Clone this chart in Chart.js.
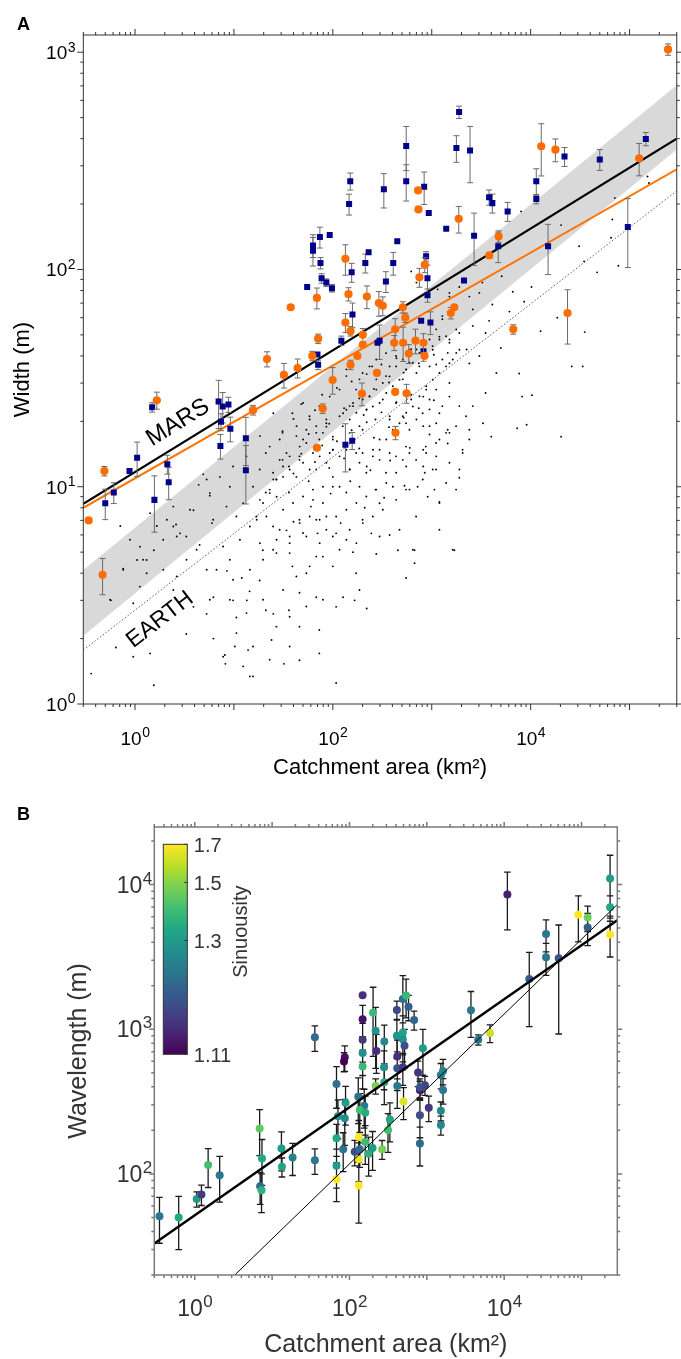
<!DOCTYPE html>
<html>
<head>
<meta charset="utf-8">
<script src="https://cdn.jsdelivr.net/npm/chart.js@4.4.1/dist/chart.umd.min.js"></script>
<style>
  html, body { margin: 0; padding: 0; background: #fff; }
  body { width: 681px; height: 1359px; position: relative; overflow: hidden; }
  canvas { position: absolute; left: 0; }
  #chartA { top: 0; }
  #chartB { top: 790px; }
</style>
</head>
<body>
<canvas id="chartA" width="681" height="790"></canvas>
<canvas id="chartB" width="681" height="569"></canvas>
<script>
// ---------- panel A : channel width vs catchment area ----------
// [area km2, width m, relative error]
const marsBlue = [
  [55,83,0],[63,129,0.12],[63,122,0.15],[74,141,0.11],[93,144,0],[75,107,0.06],[77,91,0.05],[86,87,0.04],[98,82,0.04],
  [1890,530,0.065],[1775,362,0.14],[2440,353,0.29],[552,370,0.23],[552,255,0.19],[150,255,0.09],[146,200,0.11],
  [328,234,0.18],[838,240,0.17],[933,182,0],[1400,154,0],[2680,143,0.27],[3800,215,0.08],[4100,202,0.1],
  [5850,185,0.1],[11400,255,0.14],[11400,211,0.05],[22000,331,0.1],[50000,321,0.11],[146000,399,0.07],
  [96000,157,0.35],[15000,128,0.26],[4700,128,0.16],[448,135,0],[230,120,0],[213,107,0.1],[408,107,0.12],
  [155,97,0.1],[877,115,0.05],[905,91,0.15],[344,88,0.11],[905,76,0.07],[158,62,0.13],[2120,89,0],[782,58,0],
  [970,57,0.12],[122,47,0.05],[297,47,0.18],[283,46,0],[825,42,0.1],[70,40.6,0],[71,36.4,0.05],
  [1.49,23.2,0.05],[0.88,11.8,0],[1.05,13.6,0.18],[0.5,8.4,0.16],[0.61,9.4,0.11],[1.57,8.7,0.29],[2.12,12.7,0.1],
  [2.19,10.5,0.17],[7.0,24.7,0.25],[7.7,23.4,0.16],[8.8,23.9,0.08],[7.4,19.9,0.09],[9.2,18.5,0.13],[7.3,15.4,0.13],
  [13.2,16.7,0.25],[13.2,11.9,0.3],[134,15.6,0.25],[157,16.3,0.09]
];
const marsOrange = [
  [245000,1030,0.06],[12800,369,0.27],[17800,356,0.12],[125000,325,0.17],[728,231,0],[734,189,0],[1875,171,0.14],
  [4750,142,0.06],[3820,116,0],[23600,63,0.28],[6670,53,0.05],[134,112,0.16],[144,77,0.07],[221,75,0.12],
  [292,70,0.13],[320,68,0.1],[850,105,0.08],[750,92,0.1],[134,57,0.1],[151,52,0.05],[510,67,0.06],[540,60,0.05],
  [1690,67,0],[1560,63,0.06],[201,50,0.07],[201,45,0],[427,53,0.12],[417,46,0.08],[514,46,0.18],[685,47,0.13],
  [825,46,0.1],[177,40,0],[586,41,0.1],[845,40,0],[37.5,67,0],[69,74,0.11],[71,48,0.05],[21.6,38.7,0.08],
  [62,40,0.05],[0.49,11.8,0.05],[0.34,7.0,0],[0.47,3.93,0.19],[1.66,25,0.09],[15.6,22.5,0.05],[32,32.7,0.13],
  [44,35.2,0.1],[99.6,31,0.14],[79,22.9,0.05],[69,15.1,0],[151,36.4,0.05],[279,33.4,0],[197,26.8,0.12],
  [427,27.3,0],[556,26.9,0.1],[430,17.7,0.07]
];
// terrestrial rivers [area km2, width m]
const earthDots = [
  [0.36,1.38],[1.55,1.22],[0.64,1.82],[0.57,3.0],[0.76,4.2],[1.05,4.6],[1.31,4.6],[1.55,5.1],[1.93,5.7],[2.6,6.7],
  [2.85,6.1],[4.4,10.2],[5.7,9.1],[8.4,8.1],[10.6,7.3],[6.0,6.8],[3.3,5.9],[4.5,5.4],[5.3,4.15],[8.5,4.1],
  [12,3.8],[14.4,3.3],[6.2,3.1],[9.8,3.0],[13.5,3.0],[21,2.7],[25,2.6],[36,2.7],[46,3.25],[39,4.3],
  [54,4.0],[18.2,3.7],[10.2,1.84],[13.9,1.77],[8.1,1.68],[8.2,1.53],[15.6,1.34],[24,1.97],[32,1.53],[46,2.27],
  [73,2.19],[108,1.25],[19.6,5.1],[27,5.7],[34,6.3],[17,7.05],[12.4,8.4],[21,9.4],[31,13.3],[46,13.8],
  [54,15.9],[73,16.5],[100,14.8],[68,12],[100,10],[63,8.7],[86,7.3],[108,6.1],[46,7.05],[36,9.4],
  [25,10.8],[18.2,12],[13.4,13.8],[9.8,12.4],[9.1,10],[7.2,11.1],[5.3,10.8],[3.9,7.8],[2.44,8.1],[2.1,7.05],
  [1.66,6.6],[1.12,5.3],[0.89,5.7],[0.71,6.6],[1.31,4.0],[2.44,3.35],[3.9,2.8],[5.3,2.6],[3.3,2.1],[6.2,2.0],
  [10.6,2.5],[31,18],[39,21.8],[50,24.3],[86,18.9],[27,9.0],[100,4.3],[68,3.1],[108,2.8],[73,1.71],[46,1.59],
  [137,34.7],[186,31.2],[250,35.8],[345,32.3],[550,34.7],[750,35.8],[1110,36.5],[1510,37],[2400,36.9],[4500,33.4],
  [7660,33.2],[1510,26],[3500,27],[8200,26],[10300,26.4],[2600,23.5],[1900,23.5],[1195,21.8],[950,25.2],[810,21.8],
  [700,20.4],[950,19],[1450,18.3],[2400,18.3],[3300,19.6],[4000,17],[7300,18.6],[9100,19.3],[20300,17],[26000,35.8],
  [33600,35.8],[550,19.6],[375,20.4],[270,20.4],[186,19],[220,22.7],[148,23.5],[172,14.3],[255,14.8],[375,14.3],
  [550,15.3],[820,14.8],[1110,13.8],[1450,15.8],[2050,14.8],[820,12.4],[510,13.3],[345,11.6],[220,12.4],[148,12],
  [137,9.4],[186,10],[270,9.7],[405,10],[550,9.7],[720,10],[1065,9.7],[1900,11],[910,9.0],[1195,8.5],
  [297,8.4],[200,7.05],[137,5.7],[245,6.1],[375,6.0],[160,5.0],[275,4.9],[455,5.1],[670,5.1],[1695,5.1],
  [670,4.45],[172,4.0],[550,3.8],[186,3.35],[220,2.75],[127,3.1],[166,3.0],
  [620,98],[700,87],[1150,81],[1510,75],[1280,61],[1110,53],[950,47.6],[700,42.8],[595,37.3],[435,40],
  [345,41.2],[275,38.5],[375,35.8],[235,35.8],[200,33.4],[275,31.2],[510,31.2],[700,33.4],[950,35.8],[1280,38.5],
  [1770,41.3],[1510,47.6],[1770,52.9],[137,32.3],[117,28],[172,28],[235,26],[320,25.2],[435,24.3],[620,25.2],
  [820,26],[1110,28],[1510,30],[93,26],[73,23.5],[58,21.1],[86,20.4],[127,21.8],[160,23.5],[205,21.4],
  [375,21.1],[510,21.1],[950,22.7],[1280,23.5],[43,19],[31,17.7],[25,21.8],[50,16.5],[68,17.7],[100,17],
  [148,17.7],[200,18.3],[297,16.5],[435,17.7],[595,18.3],[820,19],[1110,19.6],[34,14.3],[46,13.3],[63,14.3],
  [93,14.3],[200,14.3],[297,13.3],[435,13.8],[595,14.3],[870,15.3],[1195,16.5],[1510,17.7],[29,16.5],[21,14.3],[36,12.4],
  [8000,185],[20300,160],[30900,128],[34700,109],[47000,97],[67000,170],[71000,213],[77000,104],[152000,268],[157000,250],
  [65000,140],[12600,52],[35200,51.5],[18600,60],[10200,83],[6600,79],[5100,93],[8600,71],[6100,64],[4100,69],
  [3800,58],[2600,65.5],[3030,78],[3250,87],[1510,78],[1900,83],[2400,75],[5000,43.5],[3500,51],[2600,55],
  [1900,51],[1510,46],[2250,42.8],[3030,40],[1195,49],[1280,59],[1450,41.3],[1020,44.4],
  [18.3,17.1],[23,15.3],[24.9,11.6],[29,13.3],[36.6,13.8],[42.8,17.1],[46.2,15.3],[54,18.3],[58.3,20.4],[68,19],
  [79.4,17.7],[86,19.6],[100,16.5],[117,21.1],[126,19],[137,22.6],[148,20.4],[160,24.3],[173,21.9],[201,25.2],
  [218,22.6],[235,26.1],[254,23.4],[275,28],[297,24.3],[320,30],[347,27],[374,32.2],[404,29],[437,35.8],
  [472,31.1],[510,38.5],[552,34.6],[596,42.7],[644,37.2],[751,41.3],[878,45.9],[1024,42.7],[1195,47.6],[1397,49.3],
  [15.6,10],[18.3,8.7],[23,9.7],[26.9,10.8],[31.4,11.1],[36.6,12],[42.8,11.1],[50,12.9],[58.3,12],[73.6,13.8],
  [86,12.9],[100,14.8],[117,13.8],[137,14.8],
  [21.3,7.3],[24.9,6.56],[31.4,7.83],[39.6,8.41],[50,9.02],[63,9.7],[79.4,10],[100,11.1],[117,10],[148,12],
  [186,12.9],[218,11.6],[254,13.8],[297,14.8],[347,16.5],[404,18.3],[472,19.6],[552,21.9],[644,23.4],[751,26.1],
  [878,28],[1024,31.1],[1195,33.4],[1397,35.8],[1630,38.5],[1905,42.7],
  [29,6.34],[36.6,5.9],[46.2,6.8],[58.3,7.3],[73.6,7.05],[86,6.34],[108,7.3],[137,7.83],[173,8.41],[218,9.02],
  [275,9.7],[347,10.4],[437,11.6],[552,12.4],[695,13.3],[878,14.3],[1107,15.9],[1397,17.7],[1762,19],[2223,21.1],
  [54,5.9],[73.6,5.5],[100,5.9],[148,6.34],[201,6.8],[254,7.3],[320,7.83],[437,8.7],[596,9.7],[811,10.8],
  [1107,12],[1510,12.9],[2056,14.3],[18.3,5.5],[24.9,5.13],[36.6,4.95],[68,4.77],[117,5.13],[173,5.5],[297,5.9],
  [472,6.34],[695,7.3],[1195,8.41],[1762,9.7],[644,5.13],[1630,5.13],[1195,6.34],[1024,12],[1397,10.4],[1905,12],[2400,16.5],
  [1.42,7.56],[2.44,6.56],[2.64,5.9],[3.59,7.83],[4.89,11.4],[5.71,9.35],[6.17,7.05],[4.2,5.13],[3.32,4.61],[2.64,3.86],
  [1.93,4.15],[1.21,4.61],[0.76,4.15],[0.56,3.02],[0.96,2.91],[1.12,3.47],[7.78,5.31],[9.1,4.61],[11.5,5.7],[14.5,6.56],
  [16.9,7.3],[19.7,8.41],[23,9.35],[26.9,10.8],[31.4,12.4],[6.67,4.15],[9.8,3.73],[14.5,4.15],[19.7,4.61],[26.9,4.95],
  [36.6,5.5],[50,6.12],[68,7.05],[79.4,8.41],[5.71,3.02],[9.1,3.02],[13.4,2.62],[19.7,3.02],[31.4,3.35],[42.8,3.86],
  [58.3,4.3],[79.4,4.77],[10.6,2.12],[15.6,1.84],[26.9,2.27],[36.6,2.52],[54,2.81],[79.4,3.02],[7.78,1.65],[12.4,1.49],
  [23,1.6],[36.6,1.84],[1.42,1.71],[0.96,1.65],[14.5,1.34],
  [40,11.5],[40,20.5],[48,14.2],[48,24],[57,10.6],[57,17.5],[66,13],[66,22.5],[78,15.5],[78,26.5],
  [92,12.2],[92,19.5],[110,16.2],[110,28.5],[130,13.5],[130,23],[155,18.2],[155,30.5],[185,15],[185,25.5],
  [220,19.8],[220,33],[260,16.8],[260,28.2],[310,22],[310,36.5],[370,18.8],[370,30.2],[440,24.5],[440,39],
  [520,20.8],[520,33.5],[620,26.5],[620,43],[740,23],[740,37],[880,29],[880,46.5],[1050,25],[1050,40.5],
  [60,8.1],[95,9.3],[150,10.6],[240,11.9],[380,13.2],[600,15.1],[950,17.4],[40,6.9],[70,6.1],[120,6.8],
  [210,8.0],[330,8.9],[530,10.1],[850,11.6]
];
const marsFit = [[0.3, 8.35], [3e5, 400]];
const orangeFit = [[0.3, 8.0], [3e5, 289]];
const earthFit = [[0.3, 1.77], [3e5, 230]];
const bandUpper = [[0.3, 4.14], [3e5, 705]];
const bandLower = [[0.3, 2.06], [3e5, 357]];
const marsLabelAt = [2.72, 19.7];
const earthLabelAt = [1.79, 2.44];
const xTicksA = [1, 100, 1e4];
const yTicksA = [1, 10, 100, 1000];

// ---------- panel B : meander wavelength vs catchment area ----------
// [area km2, wavelength m, relative error, sinuosity]
const waveData = [
  [0.35,51,0.35,1.23],[0.62,50,0.4,1.33],[1.06,67,0.12,1.30],[1.22,72,0.16,1.15],[1.49,115,0.3,1.40],
  [2.1,98,0.35,1.23],[6.9,206,0.35,1.44],[7.4,128,0.35,1.33],[7.0,82,0.25,1.21],[7.3,77,0.3,1.36],
  [13.2,150,0.3,1.30],[13.4,112,0.15,1.32],[18.4,130,0.25,1.25],[35.7,124,0.2,1.23],
  [35.7,880,0.2,1.21],[148,1720,0,1.14],[202,1300,0.5,1.38],[148,1170,0.25,1.12],[148,845,0.3,1.15],
  [148,684,0.3,1.28],[148,552,0.3,1.38],[87,640,0.2,1.12],[85,598,0.15,1.11],[68,418,0.32,1.22],
  [89,310,0.3,1.30],[87,242,0.35,1.27],[68,176,0.25,1.33],[83,148,0.3,1.22],[68,114,0.3,1.30],
  [68,92,0.3,1.70],[71,250,0.3,1.28],[130,342,0.35,1.22],[155,296,0.3,1.23],[136,276,0.3,1.40],
  [160,265,0.3,1.34],[132,180,0.3,1.70],[160,166,0.3,1.39],[117,142,0.2,1.17],[136,148,0.25,1.21],
  [132,126,0.3,1.67],[132,83,0.45,1.70],[177,138,0.3,1.36],[199,151,0.3,1.30],[264,148,0.15,1.48],
  [218,405,0.12,1.48],[282,430,0.3,1.35],[223,708,0.3,1.14],[282,822,0.3,1.26],[218,975,0.45,1.28],
  [280,545,0.3,1.28],[333,238,0.3,1.33],[315,201,0.3,1.40],[490,1620,0.45,1.22],[540,1710,0.3,1.38],
  [580,1430,0.2,1.19],[685,1160,0.15,1.20],[410,1360,0.15,1.16],[410,900,0.3,1.29],[490,950,0.3,1.32],
  [490,850,0.3,1.28],[515,768,0.3,1.17],[415,648,0.3,1.14],[415,537,0.3,1.175],[490,545,0.25,1.15],
  [415,405,0.3,1.23],[500,316,0.25,1.64],[890,740,0.35,1.30],[770,502,0.2,1.145],[945,410,0.15,1.16],
  [814,380,0.15,1.12],[814,395,0.15,1.175],[1060,287,0.2,1.145],[814,254,0.3,1.17],[814,162,0.3,1.21],
  [1520,483,0.2,1.23],[1620,515,0.2,1.255],[1620,380,0.2,1.23],[1520,273,0.15,1.255],[1520,218,0.15,1.255],
  [11000,8530,0.43,1.13],[234000,11000,0.45,1.30],[234000,6970,0.2,1.33],[234000,4510,0.3,1.70],
  [91000,6180,0.35,1.70],[120000,5920,0.2,1.46],[120000,5050,0.25,1.19],[34800,4560,0.25,1.23],
  [34800,3140,0.25,1.23],[50700,3090,0.7,1.175],[21100,2220,0.53,1.18],[3720,1350,0.35,1.23],
  [4620,845,0.08,1.22],[6550,940,0.14,1.60]
];
const waveFit = [[0.3, 33], [2.9e5, 5670]];
const waveRef = [[3.29, 20], [2.9e5, 7280]];
const xTicksB = [1, 100, 1e4];
const yTicksB = [100, 1000, 1e4];
const sinMin = 1.11, sinMax = 1.7;
const sinTicks = [1.11, 1.3, 1.5, 1.7];
const sinTickLabels = ['1.11', '1.3', '1.5', '1.7'];

const viridis = ['#440154','#482475','#414487','#355f8d','#2a788e','#21918c','#22a884','#44bf70','#7ad151','#bddf26','#fde725'];
const FONT = '"Liberation Sans", Arial, Helvetica, sans-serif';

Chart.defaults.font.family = FONT;

const pts = arr => arr.map(p => ({ x: p[0], y: p[1] }));

function sinT(s) {
  const lo = Math.log10(sinMin - 1), hi = Math.log10(sinMax - 1);
  return Math.max(0, Math.min(1, (Math.log10(s - 1) - lo) / (hi - lo)));
}
function hexToRgb(h) { return [1, 3, 5].map(i => parseInt(h.slice(i, i + 2), 16)); }
function sinColor(s) {
  const f = sinT(s) * (viridis.length - 1);
  const i = Math.min(viridis.length - 2, Math.floor(f)), u = f - i;
  const a = hexToRgb(viridis[i]), b = hexToRgb(viridis[i + 1]);
  return 'rgb(' + a.map((c, k) => Math.round(c + (b[k] - c) * u)).join(',') + ')';
}

function logSteps(min, max) {
  const out = [];
  for (let k = Math.floor(Math.log10(min)); k <= Math.ceil(Math.log10(max)); k++) {
    for (let m = 1; m < 10; m++) {
      const v = m * Math.pow(10, k);
      if (v >= min * 0.999 && v <= max * 1.001) out.push([v, m === 1]);
    }
  }
  return out;
}

// box round the plot with log ticks on all four sides
const frameTicks = {
  id: 'frameTicks',
  afterDraw(chart, args, opts) {
    const { ctx, chartArea: a, scales: { x, y } } = chart;
    ctx.save();
    ctx.strokeStyle = opts.color;
    ctx.lineWidth = opts.width;
    ctx.strokeRect(a.left, a.top, a.right - a.left, a.bottom - a.top);
    ctx.beginPath();
    logSteps(x.min, x.max).forEach(([v, major]) => {
      const p = x.getPixelForValue(v), len = major ? opts.major : opts.minor;
      ctx.moveTo(p, a.bottom); ctx.lineTo(p, a.bottom + len);
      ctx.moveTo(p, a.top); ctx.lineTo(p, a.top - len);
    });
    logSteps(y.min, y.max).forEach(([v, major]) => {
      const p = y.getPixelForValue(v), len = major ? opts.major : opts.minor;
      ctx.moveTo(a.left, p); ctx.lineTo(a.left - len, p);
      ctx.moveTo(a.right, p); ctx.lineTo(a.right + len, p);
    });
    ctx.stroke();
    ctx.restore();
  }
};

// "10" with a raised exponent, at the positions of the scale's own ticks
const powerLabels = {
  id: 'powerLabels',
  afterDraw(chart, args, o) {
    const { ctx, chartArea: a, scales: { x, y } } = chart;
    ctx.save();
    ctx.fillStyle = o.color;
    ctx.textAlign = 'left';
    ctx.textBaseline = 'alphabetic';
    const draw = (v, px, base, anchor) => {
      const k = String(Math.round(Math.log10(v)));
      ctx.font = o.size + 'px ' + FONT;
      const wb = ctx.measureText('10').width;
      ctx.font = o.supSize + 'px ' + FONT;
      const we = ctx.measureText(k).width;
      const left = anchor === 'center' ? px - (wb + we) / 2 : px - wb - we;
      ctx.font = o.size + 'px ' + FONT;
      ctx.fillText('10', left, base);
      ctx.font = o.supSize + 'px ' + FONT;
      ctx.fillText(k, left + wb + 0.5, base - o.raise);
    };
    x.ticks.forEach(t => draw(t.value, x.getPixelForValue(t.value), a.bottom + o.xOffset, 'center'));
    y.ticks.forEach(t => draw(t.value, a.left - o.yPad, y.getPixelForValue(t.value) + o.size * 0.358, 'right'));
    ctx.restore();
  }
};

// vertical error bars, drawn just under their markers
const errorBars = {
  id: 'errorBars',
  beforeDatasetDraw(chart, args, opts) {
    const ds = chart.data.datasets[args.index];
    if (!ds.errors) return;
    const { ctx, scales: { x, y } } = chart;
    ctx.save();
    ctx.strokeStyle = opts.color;
    ctx.lineWidth = opts.width;
    ctx.beginPath();
    ds.data.forEach((pt, i) => {
      const e = ds.errors[i];
      if (!e) return;
      const px = x.getPixelForValue(pt.x);
      const top = y.getPixelForValue(pt.y * (1 + e));
      const bot = y.getPixelForValue(pt.y * (1 - e));
      ctx.moveTo(px, top); ctx.lineTo(px, bot);
      ctx.moveTo(px - opts.cap, top); ctx.lineTo(px + opts.cap, top);
      ctx.moveTo(px - opts.cap, bot); ctx.lineTo(px + opts.cap, bot);
    });
    ctx.stroke();
    ctx.restore();
  }
};

function drawAlong(ctx, x, y, text, at, line, size) {
  const x0 = x.getPixelForValue(line[0][0]), y0 = y.getPixelForValue(line[0][1]);
  const x1 = x.getPixelForValue(line[1][0]), y1 = y.getPixelForValue(line[1][1]);
  ctx.save();
  ctx.translate(x.getPixelForValue(at[0]), y.getPixelForValue(at[1]));
  ctx.rotate(Math.atan2(y1 - y0, x1 - x0));
  ctx.font = size + 'px ' + FONT;
  ctx.textAlign = 'center';
  ctx.textBaseline = 'middle';
  ctx.fillText(text, 0, 0);
  ctx.restore();
}

const labelsA = {
  id: 'labelsA',
  afterDraw(chart) {
    const { ctx, scales: { x, y } } = chart;
    ctx.save();
    ctx.fillStyle = '#000';
    ctx.font = 'bold 18px ' + FONT;
    ctx.textAlign = 'left';
    ctx.textBaseline = 'alphabetic';
    ctx.fillText('A', 17, 29.5);
    drawAlong(ctx, x, y, 'MARS', marsLabelAt, marsFit, 24);
    drawAlong(ctx, x, y, 'EARTH', earthLabelAt, earthFit, 23);
    ctx.restore();
  }
};

const colorBar = {
  id: 'colorBar',
  afterDraw(chart) {
    const { ctx, chartArea: a } = chart;
    const left = a.left + 9, top = a.top + 17.3, w = 24, h = 210;
    ctx.save();
    ctx.fillStyle = '#000';
    ctx.font = 'bold 18px ' + FONT;
    ctx.textAlign = 'left';
    ctx.textBaseline = 'alphabetic';
    ctx.fillText('B', 17, 29.5);

    const g = ctx.createLinearGradient(0, top + h, 0, top);
    viridis.forEach((c, i) => g.addColorStop(i / (viridis.length - 1), c));
    ctx.fillStyle = g;
    ctx.fillRect(left, top, w, h);
    ctx.strokeStyle = '#333';
    ctx.lineWidth = 1;
    ctx.strokeRect(left, top, w, h);

    ctx.font = '20px ' + FONT;
    ctx.fillStyle = '#333';
    ctx.textBaseline = 'middle';
    sinTicks.forEach((s, i) => {
      const py = top + h - sinT(s) * h;
      ctx.beginPath();
      ctx.moveTo(left + w, py); ctx.lineTo(left + w - 3, py);
      ctx.stroke();
      ctx.fillText(sinTickLabels[i], left + w + 6.5, py + 2);
    });
    ctx.translate(a.left + 87.4, a.top + 104.7);
    ctx.rotate(-Math.PI / 2);
    ctx.textAlign = 'center';
    ctx.fillText('Sinuousity', 0, 0);
    ctx.restore();
  }
};

// ---------- chart A ----------
new Chart(document.getElementById('chartA'), {
  type: 'scatter',
  data: {
    datasets: [
      { label: 'Mars (circles)', data: pts(marsOrange), errors: marsOrange.map(p => p[2]),
        pointStyle: 'circle', pointRadius: 4.1, backgroundColor: '#ff6d00', borderWidth: 0, order: 0 },
      { label: 'Mars (squares)', data: pts(marsBlue), errors: marsBlue.map(p => p[2]),
        pointStyle: 'rect', pointRadius: 4.25, backgroundColor: '#00008b', borderWidth: 0, order: 1 },
      { type: 'line', label: 'Mars fit', data: pts(marsFit), borderColor: '#000', borderWidth: 2.2,
        pointRadius: 0, fill: false, order: 2 },
      { type: 'line', label: 'Orange fit', data: pts(orangeFit), borderColor: '#ff7400', borderWidth: 2,
        pointRadius: 0, fill: false, order: 3 },
      { type: 'line', label: 'Earth fit', data: pts(earthFit), borderColor: '#333', borderWidth: 0.8,
        borderDash: [1.5, 2], pointRadius: 0, fill: false, order: 4 },
      { label: 'Earth', data: pts(earthDots), pointRadius: 0.95, backgroundColor: '#000', borderWidth: 0, order: 5 },
      { type: 'line', label: 'band top', data: pts(bandUpper), borderColor: 'rgba(0,0,0,0)', borderWidth: 0,
        pointRadius: 0, fill: '+1', backgroundColor: '#d9d9d9', order: 6 },
      { type: 'line', label: 'band bottom', data: pts(bandLower), borderColor: 'rgba(0,0,0,0)', borderWidth: 0,
        pointRadius: 0, fill: false, order: 7 }
    ]
  },
  options: {
    responsive: false,
    animation: false,
    events: [],
    layout: { padding: { left: 0, right: 2.7, top: 35, bottom: 0 } },
    plugins: {
      legend: { display: false },
      tooltip: { enabled: false },
      frameTicks: { color: '#333', width: 1, major: 6, minor: 3 },
      errorBars: { color: '#6b6b6b', width: 1, cap: 3 },
      powerLabels: { color: '#000', size: 19, supSize: 14, raise: 7.5, xOffset: 40.8, yPad: 8.3 }
    },
    scales: {
      x: {
        type: 'logarithmic', min: 0.3, max: 3e5,
        afterBuildTicks: s => { s.ticks = xTicksA.map(v => ({ value: v })); },
        afterFit: s => { s.height = 86; },
        grid: { display: false, drawTicks: false },
        border: { display: false },
        ticks: { display: false },
        title: { display: true, text: 'Catchment area (km\u00b2)', font: { size: 22 }, color: '#000',
                 padding: { top: 0, bottom: 8.8 } }
      },
      y: {
        type: 'logarithmic', min: 1, max: 1200,
        afterBuildTicks: s => { s.ticks = yTicksA.map(v => ({ value: v })); },
        afterFit: s => { s.width = 83.3; },
        grid: { display: false, drawTicks: false },
        border: { display: false },
        ticks: { display: false },
        title: { display: true, text: 'Width (m)', font: { size: 22 }, color: '#000',
                 padding: { top: 9.3, bottom: 0 } }
      }
    }
  },
  plugins: [errorBars, frameTicks, powerLabels, labelsA]
});

// ---------- chart B ----------
new Chart(document.getElementById('chartB'), {
  type: 'scatter',
  data: {
    datasets: [
      { type: 'line', label: 'fit', data: pts(waveFit), borderColor: '#000', borderWidth: 2.6,
        pointRadius: 0, fill: false, order: 0 },
      { type: 'line', label: 'reference', data: pts(waveRef), borderColor: '#000', borderWidth: 1,
        pointRadius: 0, fill: false, order: 1 },
      { label: 'meanders', data: pts(waveData), errors: waveData.map(p => p[2]),
        pointRadius: 4, backgroundColor: waveData.map(p => sinColor(p[3])), borderWidth: 0, order: 2 }
    ]
  },
  options: {
    responsive: false,
    animation: false,
    events: [],
    layout: { padding: { left: 0, right: 63.7, top: 37, bottom: 0 } },
    plugins: {
      legend: { display: false },
      tooltip: { enabled: false },
      frameTicks: { color: '#7a7a7a', width: 1.5, major: 5, minor: 3 },
      errorBars: { color: '#1a1a1a', width: 1.3, cap: 3.3 },
      powerLabels: { color: '#333', size: 23, supSize: 17, raise: 9, xOffset: 41.2, yPad: 2.6 }
    },
    scales: {
      x: {
        type: 'logarithmic', min: 0.3, max: 2.9e5,
        afterBuildTicks: s => { s.ticks = xTicksB.map(v => ({ value: v })); },
        afterFit: s => { s.height = 84; },
        grid: { display: false, drawTicks: false },
        border: { display: false },
        ticks: { display: false },
        title: { display: true, text: 'Catchment area (km\u00b2)', font: { size: 25, lineHeight: 1.1 }, color: '#333',
                 padding: { top: 0, bottom: 0.3 } }
      },
      y: {
        type: 'logarithmic', min: 20, max: 25000,
        afterBuildTicks: s => { s.ticks = yTicksB.map(v => ({ value: v })); },
        afterFit: s => { s.width = 154.3; },
        grid: { display: false, drawTicks: false },
        border: { display: false },
        ticks: { display: false },
        title: { display: true, text: 'Wavelength (m)', font: { size: 25, lineHeight: 1.1 }, color: '#333',
                 padding: { top: 65, bottom: 0 } }
      }
    }
  },
  plugins: [errorBars, frameTicks, powerLabels, colorBar]
});
</script>
</body>
</html>
